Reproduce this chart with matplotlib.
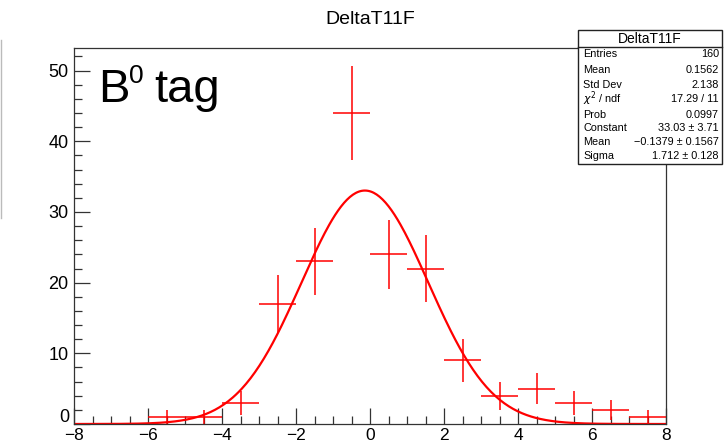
import matplotlib
matplotlib.use("Agg")
import matplotlib.pyplot as plt
import numpy as np
from matplotlib.patches import Rectangle
from matplotlib.lines import Line2D
from matplotlib.ticker import MultipleLocator

plt.rcParams["font.family"] = ["Liberation Sans", "DejaVu Sans"]

# histogram DeltaT11F, 16 bins of width 1 in [-8, 8]
bin_centers = [-7.5, -6.5, -5.5, -4.5, -3.5, -2.5, -1.5, -0.5,
               0.5, 1.5, 2.5, 3.5, 4.5, 5.5, 6.5, 7.5]
counts = [0, 0, 1, 1, 3, 17, 23, 44, 24, 22, 9, 4, 5, 3, 2, 1]

# gaus fit parameters from the stats box
fit_const = 33.03
fit_mean = -0.1379
fit_sigma = 1.712

stat_labels = ["Entries", "Mean", "Std Dev", r"$\chi^2$ / ndf", "Prob",
               "Constant", "Mean", "Sigma"]
stat_values = ["160", "0.1562", "2.138", "17.29 / 11", "0.0997",
               "33.03 \u00b1 3.71", "\u22120.1379 \u00b1 0.1567", "1.712 \u00b1 0.128"]

W, H = 724, 447
fig = plt.figure(figsize=(W / 100, H / 100), dpi=100, facecolor="white")


def fx(px):
    return px / W


def fy(py):
    return 1 - py / H


ax = fig.add_axes([fx(74), fy(424), fx(666) - fx(74), fy(48) - fy(424)])

x = np.array(bin_centers)
y = np.array(counts, dtype=float)
mask = y > 0
ax.errorbar(x[mask], y[mask], xerr=0.5, yerr=np.sqrt(y[mask]), fmt="none",
            ecolor="red", elinewidth=1.1, capsize=0)

xs = np.linspace(-8, 8, 400)
ax.plot(xs, fit_const * np.exp(-0.5 * ((xs - fit_mean) / fit_sigma) ** 2),
        color="red", lw=1.6)

ax.set_xlim(-8, 8)
ax.set_ylim(0, 53.2)
ax.xaxis.set_major_locator(MultipleLocator(2))
ax.xaxis.set_minor_locator(MultipleLocator(0.5))
ax.yaxis.set_major_locator(MultipleLocator(10))
ax.yaxis.set_minor_locator(MultipleLocator(2))
ax.tick_params(which="both", direction="in", top=False, right=False,
               labelsize=13, color="#333333", width=0.9)
ax.tick_params(which="major", length=11.5)
ax.tick_params(which="minor", length=5.8)
ax.tick_params(axis="x", pad=3, labelsize=12.5)
ax.tick_params(axis="y", pad=4)
ax.xaxis.set_major_formatter(plt.FuncFormatter(
    lambda v, p: f"{int(v)}".replace("-", "\u2212")))
# y "0" is placed by hand just above the x "-8" label
ax.yaxis.set_major_formatter(plt.FuncFormatter(
    lambda v, p: "" if v == 0 else f"{int(v)}"))
for s in ax.spines.values():
    s.set_color("#333333")
    s.set_linewidth(0.9)
fig.text(fx(69), fy(426), "0", fontsize=13, ha="right", va="bottom")

# "B0 tag" label, superscript drawn as its own smaller text
fig.text(fx(98), fy(102), "B", fontsize=34, va="baseline", ha="left")
fig.text(fx(129), fy(83), "0", fontsize=19, va="baseline", ha="left")
fig.text(fx(154), fy(102), "tag", fontsize=34, va="baseline", ha="left")

fig.text(0.511, fy(19), "DeltaT11F", ha="center", va="center", fontsize=14)

# stats box
bx0, bx1, by0, by1 = 578, 722, 30, 164
fig.patches.append(Rectangle((fx(bx0), fy(by1)), fx(bx1) - fx(bx0), fy(by0) - fy(by1),
                             transform=fig.transFigure, facecolor="white",
                             edgecolor="#222222", lw=1.0, zorder=5))
fig.lines.append(Line2D([fx(bx0), fx(bx1)], [fy(47), fy(47)],
                        transform=fig.transFigure, color="#222222", lw=1.0, zorder=6))
fig.text(fx(650), fy(39), "DeltaT11F", ha="center", va="center", fontsize=10, zorder=7)
row_y = [54, 70, 85, 99, 115, 128, 142, 156]
for lab, val, ry in zip(stat_labels, stat_values, row_y):
    fig.text(fx(583), fy(ry), lab, ha="left", va="center", fontsize=7.8, zorder=7)
    fig.text(fx(719), fy(ry), val, ha="right", va="center", fontsize=7.8, zorder=7)

# faint artifact line at the left edge
fig.lines.append(Line2D([fx(1), fx(1)], [fy(40), fy(218)], transform=fig.transFigure,
                        color="#bbbbbb", lw=1.0))

fig.savefig("out.png", dpi=100)
